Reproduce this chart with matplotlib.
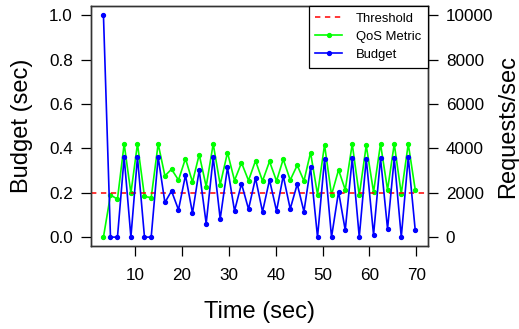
import matplotlib
matplotlib.use("Agg")
import matplotlib.pyplot as plt
from matplotlib.lines import Line2D

time_sec = [3.22, 4.72, 6.21, 7.64, 9.08, 10.48, 11.98, 13.41, 14.90, 16.34,
            17.75, 19.24, 20.73, 22.23, 23.66, 25.15, 26.65, 28.14, 29.70, 31.20,
            32.69, 34.19, 35.68, 37.18, 38.67, 40.17, 41.60, 43.09, 44.59, 46.02,
            47.43, 48.92, 50.42, 51.91, 53.41, 54.84, 56.33, 57.83, 59.32, 60.88,
            62.37, 63.87, 65.30, 66.80, 68.29, 69.78]

budget = [1.0, 0.0, 0.0, 0.36, 0.0, 0.36, 0.0, 0.0, 0.36, 0.156,
          0.208, 0.123, 0.279, 0.108, 0.302, 0.061, 0.36, 0.082, 0.314, 0.118,
          0.241, 0.126, 0.266, 0.114, 0.258, 0.118, 0.276, 0.127, 0.239, 0.115,
          0.314, 0.0, 0.351, 0.0, 0.205, 0.031, 0.356, 0.0, 0.353, 0.01,
          0.356, 0.037, 0.356, 0.0, 0.36, 0.031]

qos_metric = [0, 1900, 1710, 4200, 1980, 4200, 1830, 1780, 4200, 2760,
              3060, 2570, 3540, 2480, 3720, 2280, 4200, 2360, 3810, 2550,
              3350, 2550, 3440, 2530, 3410, 2530, 3510, 2570, 3240, 2530,
              3810, 1920, 4160, 1900, 3030, 2130, 4200, 1880, 4130, 2030,
              4200, 2130, 4200, 1950, 4200, 2130]

threshold = 0.2

x_ticks = [10, 20, 30, 40, 50, 60, 70]
left_ticks = [0.0, 0.2, 0.4, 0.6, 0.8, 1.0]
left_tick_labels = ["0.0", "0.2", "0.4", "0.6", "0.8", "1.0"]
right_ticks = [0, 2000, 4000, 6000, 8000, 10000]

plt.rcParams['font.family'] = ['Liberation Sans', 'DejaVu Sans']

fig = plt.figure(figsize=(5.19, 3.29), dpi=100)
ax = fig.add_axes([0.1753, 0.2523, 0.6488, 0.7286])

red_dash = (0, (3.5, 3))
ax.axhline(threshold, color="#FF0000", linestyle=red_dash, lw=1.1, zorder=1)
ax.plot(time_sec, budget, color="#0000FF", lw=1.2, marker="o", ms=2.8, zorder=3)

xmin, xmax = min(time_sec), max(time_sec)
pad = (xmax - xmin) * 0.04
ax.set_xlim(xmin - pad, xmax + pad)
ax.set_ylim(-0.04, 1.04)
ax.set_xticks(x_ticks)
ax.set_yticks(left_ticks)
ax.set_yticklabels(left_tick_labels)

ax2 = ax.twinx()
ax2.plot(time_sec, qos_metric, color="#00FF00", lw=1.2, marker="o", ms=2.8, zorder=2)
ax2.set_ylim(-400, 10400)
ax2.set_yticks(right_ticks)
ax.set_zorder(ax2.get_zorder() + 1)
ax.patch.set_visible(False)

for a in (ax, ax2):
    a.tick_params(direction="out", length=7, width=0.9, labelsize=12.3, pad=6, colors="black")
    for s in a.spines.values():
        s.set_linewidth(1.0)
        s.set_color("#333333")
ax.tick_params(axis="x", pad=9)

ax.set_xlabel("Time (sec)", fontsize=17)
ax.set_ylabel("Budget (sec)", fontsize=17)
ax2.set_ylabel("Requests/sec", fontsize=17)
ax.xaxis.set_label_coords(0.5, -0.274)
ax.xaxis.label.set_va("center")
ax.yaxis.set_label_coords(-0.205, 0.5)
ax.yaxis.label.set_va("center")
ax2.yaxis.set_label_coords(1.24, 0.5)
ax2.yaxis.label.set_va("center")

handles = [
    Line2D([], [], color="#FF0000", linestyle=red_dash, lw=1.1),
    Line2D([], [], color="#00FF00", lw=1.2, marker="o", ms=2.8),
    Line2D([], [], color="#0000FF", lw=1.2, marker="o", ms=2.8),
]
leg = ax.legend(handles, ["Threshold", "QoS Metric", "Budget"], loc="upper right",
                fancybox=False, framealpha=1, edgecolor="black",
                fontsize=9.4, handlelength=2.0, handletextpad=1.1, labelspacing=0.45,
                borderpad=0.5, borderaxespad=0)
leg.get_frame().set_linewidth(0.9)

fig.savefig("out.png", dpi=100)
